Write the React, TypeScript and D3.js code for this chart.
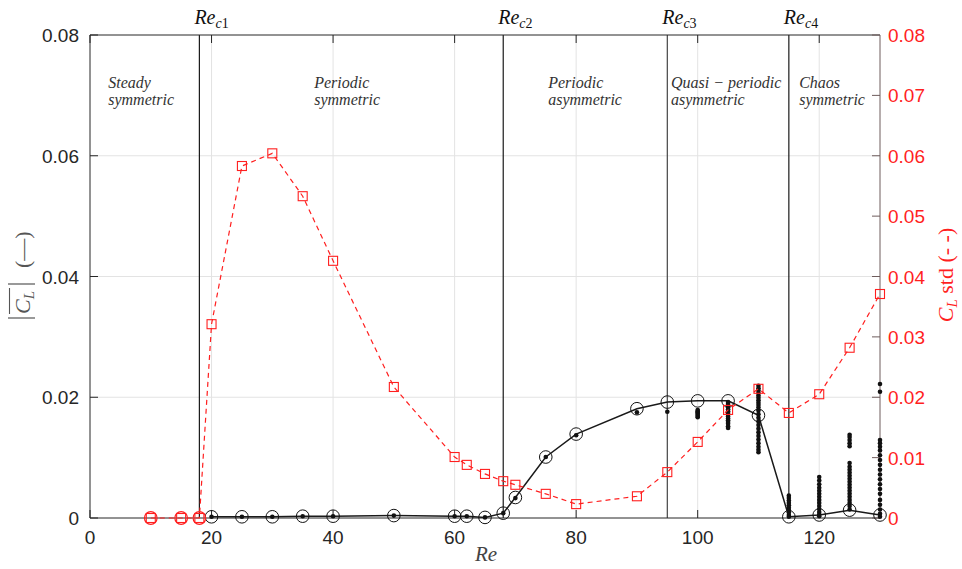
import React from "react";
import * as d3 from "d3";

const reSteady = [10, 15, 18];
const reMean = [20, 25, 30, 35, 40, 50, 60, 62, 65, 68, 70, 75, 80, 90, 95, 100, 105, 110, 115, 120, 125, 130];
const meanCL = [0.0002, 0.0002, 0.0002, 0.0003, 0.0003, 0.0004, 0.0003, 0.0003, 0.0001, 0.0008, 0.0034, 0.0101, 0.0139, 0.0181, 0.0192, 0.0194, 0.0194, 0.0170, 0.0002, 0.0005, 0.0013, 0.0005];
const reStd = [10, 15, 18, 20, 25, 30, 35, 40, 50, 60, 62, 65, 68, 70, 75, 80, 90, 95, 100, 105, 110, 115, 120, 125, 130];
const stdCL = [0, 0, 0, 0.0321, 0.0583, 0.0604, 0.0533, 0.0426, 0.0217, 0.0101, 0.0088, 0.0073, 0.0061, 0.0055, 0.0040, 0.0023, 0.0036, 0.0076, 0.0126, 0.0179, 0.0214, 0.0174, 0.0205, 0.0282, 0.0371];

const dotRe = [20, 25, 30, 35, 40, 50, 60, 62, 65, 68, 70, 75, 80, 90, 95, 100, 105, 110, 115, 120, 125, 130];
const dotValues: number[][] = [
  [0.0002], [0.0002], [0.0002], [0.0003], [0.0003], [0.0004], [0.0003], [0.0003], [0.0001], [0.0008],
  [0.0033], [0.0101], [0.0137], [0.0175], [0.0176],
  [0.0167, 0.0169, 0.0171, 0.0173, 0.0175, 0.0177, 0.0179],
  [0.0192, 0.0189, 0.0186, 0.0183, 0.0180, 0.0177, 0.0174, 0.0171, 0.0168, 0.0165, 0.0162, 0.0159, 0.0156, 0.0152, 0.0149],
  [0.0219, 0.0215, 0.0211, 0.0207, 0.0203, 0.0199, 0.0195, 0.0191, 0.0187, 0.0183, 0.0178, 0.0172, 0.0166, 0.0160, 0.0154, 0.0148, 0.0142, 0.0136, 0.0130, 0.0124, 0.0118, 0.0113, 0.0109],
  [0.0037, 0.0033, 0.0029, 0.0025, 0.0021, 0.0017, 0.0013, 0.0009, 0.0005, 0.0002],
  [0.0068, 0.0062, 0.0056, 0.0050, 0.0045, 0.0040, 0.0035, 0.0030, 0.0025, 0.0020, 0.0015, 0.0010, 0.0006, 0.0003],
  [0.0138, 0.0134, 0.0129, 0.0124, 0.0119, 0.0091, 0.0085, 0.0080, 0.0075, 0.0070, 0.0065, 0.0060, 0.0055, 0.0050, 0.0045, 0.0040, 0.0035, 0.0030, 0.0025, 0.0020, 0.0014],
  [0.0222, 0.0209, 0.0129, 0.0124, 0.0118, 0.0112, 0.0104, 0.0096, 0.0088, 0.0080, 0.0072, 0.0064, 0.0056, 0.0048, 0.0040, 0.0030, 0.0022, 0.0014, 0.0007, 0.0002],
];

const criticalRe = [18, 68, 95, 115];
const criticalLabels = ["c1", "c2", "c3", "c4"];
const regionX = [3, 36.9, 75.4, 95.6, 116.7];
const regionLine1 = ["Steady", "Periodic", "Periodic", "Quasi \u2212 periodic", "Chaos"];
const regionLine2 = ["symmetric", "symmetric", "asymmetric", "asymmetric", "symmetric"];

const xTicks = [0, 20, 40, 60, 80, 100, 120];
const yLeftTicks = [0, 0.02, 0.04, 0.06, 0.08];
const yRightTicks = [0, 0.01, 0.02, 0.03, 0.04, 0.05, 0.06, 0.07, 0.08];

const W = 962, H = 569;
const L = 90, R = 880, T = 35, B = 518;
const RED = "#ff1f1f";
const AX = "#262626";
const SANS = "'Liberation Sans', Arial, sans-serif";
const SERIF = "'Liberation Serif', 'Times New Roman', serif";

export default function App() {
  const x = d3.scaleLinear().domain([0, 130]).range([L, R]);
  const yL = d3.scaleLinear().domain([0, 0.08]).range([B, T]);
  const yR = d3.scaleLinear().domain([0, 0.08]).range([B, T]);

  const meanLine = d3.line<number>().x((_, i) => x(reMean[i])).y((d) => yL(d))(meanCL) || "";
  const stdLine = d3.line<number>().x((_, i) => x(reStd[i])).y((d) => yR(d))(stdCL) || "";
  const tick = 8;

  return (
    <svg width={W} height={H} style={{ position: "absolute", left: 0, top: 0, background: "#fff" }}>
      {/* grid */}
      {xTicks.filter((t) => t > 0).map((t) => (
        <line key={"gx" + t} x1={x(t)} x2={x(t)} y1={T} y2={B} stroke="#e3e3e3" strokeWidth={1} />
      ))}
      {yLeftTicks.filter((t) => t > 0 && t < 0.08).map((t) => (
        <line key={"gy" + t} x1={L} x2={R} y1={yL(t)} y2={yL(t)} stroke="#e3e3e3" strokeWidth={1} />
      ))}

      {/* critical lines */}
      {criticalRe.map((r, i) => (
        <g key={"c" + i}>
          <line x1={x(r)} x2={x(r)} y1={T} y2={B} stroke={i === 2 ? "#444" : "#1a1a1a"} strokeWidth={1.2} />
          <text x={x(r) - 5} y={24} fontFamily={SERIF} fontSize={20} fill="#111">
            <tspan fontStyle="italic">Re</tspan>
            <tspan fontSize={14} dy={4} fontStyle="italic">{criticalLabels[i][0]}</tspan>
            <tspan fontSize={14}>{criticalLabels[i][1]}</tspan>
          </text>
        </g>
      ))}

      {/* region labels */}
      {regionX.map((r, i) => (
        <text key={"r" + i} x={x(r)} y={88} fontFamily={SERIF} fontStyle="italic" fontSize={16} fill="#333">
          <tspan x={x(r)}>{regionLine1[i]}</tspan>
          <tspan x={x(r)} dy={17}>{regionLine2[i]}</tspan>
        </text>
      ))}

      {/* axes frame */}
      <line x1={L} x2={R} y1={T} y2={T} stroke={AX} strokeWidth={1} />
      <line x1={L} x2={R} y1={B} y2={B} stroke={AX} strokeWidth={1} />
      <line x1={L} x2={L} y1={T} y2={B} stroke={AX} strokeWidth={1} />
      <line x1={R} x2={R} y1={T} y2={B} stroke="#6e5c5c" strokeWidth={1} />

      {/* x ticks */}
      {xTicks.map((t) => (
        <g key={"xt" + t}>
          <line x1={x(t)} x2={x(t)} y1={B} y2={B - tick} stroke={AX} />
          <line x1={x(t)} x2={x(t)} y1={T} y2={T + tick} stroke={AX} />
          <text x={x(t)} y={544} textAnchor="middle" fontFamily={SANS} fontSize={19} fill={AX}>{t}</text>
        </g>
      ))}
      {/* left ticks */}
      {yLeftTicks.map((t) => (
        <g key={"yl" + t}>
          <line x1={L} x2={L + tick} y1={yL(t)} y2={yL(t)} stroke={AX} />
          <text x={79} y={yL(t) + 7} textAnchor="end" fontFamily={SANS} fontSize={19} fill={AX}>{t === 0 ? "0" : t.toFixed(2)}</text>
        </g>
      ))}
      {/* right ticks */}
      {yRightTicks.map((t) => (
        <g key={"yr" + t}>
          <line x1={R} x2={R - tick} y1={yR(t)} y2={yR(t)} stroke="#6e5c5c" />
          <text x={888} y={yR(t) + 7} textAnchor="start" fontFamily={SANS} fontSize={19} fill={RED}>{t === 0 ? "0" : t.toFixed(2)}</text>
        </g>
      ))}

      {/* mean series */}
      <path d={meanLine} fill="none" stroke="#1a1a1a" strokeWidth={1.5} />
      {dotRe.map((r, i) => dotValues[i].map((v, j) => (
        <circle key={"d" + i + "-" + j} cx={x(r)} cy={yL(v)} r={2.3} fill="#111" />
      )))}
      {reMean.map((r, i) => (
        <circle key={"m" + i} cx={x(r)} cy={yL(meanCL[i])} r={6.3} fill="none" stroke="#111" strokeWidth={1} />
      ))}

      {/* std series */}
      <path d={stdLine} fill="none" stroke={RED} strokeWidth={1.2} strokeDasharray="5,4" />
      {reStd.map((r, i) => (
        <rect key={"s" + i} x={x(r) - 4.5} y={yR(stdCL[i]) - 4.5} width={9} height={9} fill="none" stroke={RED} strokeWidth={1.1} />
      ))}
      {reSteady.map((r, i) => (
        <circle key={"st" + i} cx={x(r)} cy={yL(0)} r={6.3} fill="none" stroke={RED} strokeWidth={1.2} />
      ))}

      {/* axis labels */}
      <text x={486} y={561} textAnchor="middle" fontFamily={SERIF} fontStyle="italic" fontSize={21} fill="#444">Re</text>

      <g transform="translate(30,275) rotate(-90)">
        <line x1={-43} x2={-43} y1={-22} y2={5} stroke="#555" strokeWidth={1.2} />
        <line x1={-9} x2={-9} y1={-22} y2={5} stroke="#555" strokeWidth={1.2} />
        <line x1={-39} x2={-13} y1={-20.5} y2={-20.5} stroke="#555" strokeWidth={1.1} />
        <text x={-39} y={0} fontFamily={SERIF} fontSize={22} fill="#555">
          <tspan fontStyle="italic">C</tspan>
          <tspan fontStyle="italic" fontSize={15} dy={4}>L</tspan>
        </text>
        <text x={7} y={0} fontFamily={SERIF} fontSize={22} fill="#555">(—)</text>
      </g>

      <g transform="translate(953,275) rotate(-90)">
        <text x={0} y={0} textAnchor="middle" fontFamily={SERIF} fontSize={22} fill={RED}>
          <tspan fontStyle="italic">C</tspan>
          <tspan fontStyle="italic" fontSize={15} dy={4}>L</tspan>
          <tspan dy={-4}> std (- -)</tspan>
        </text>
      </g>
    </svg>
  );
}
